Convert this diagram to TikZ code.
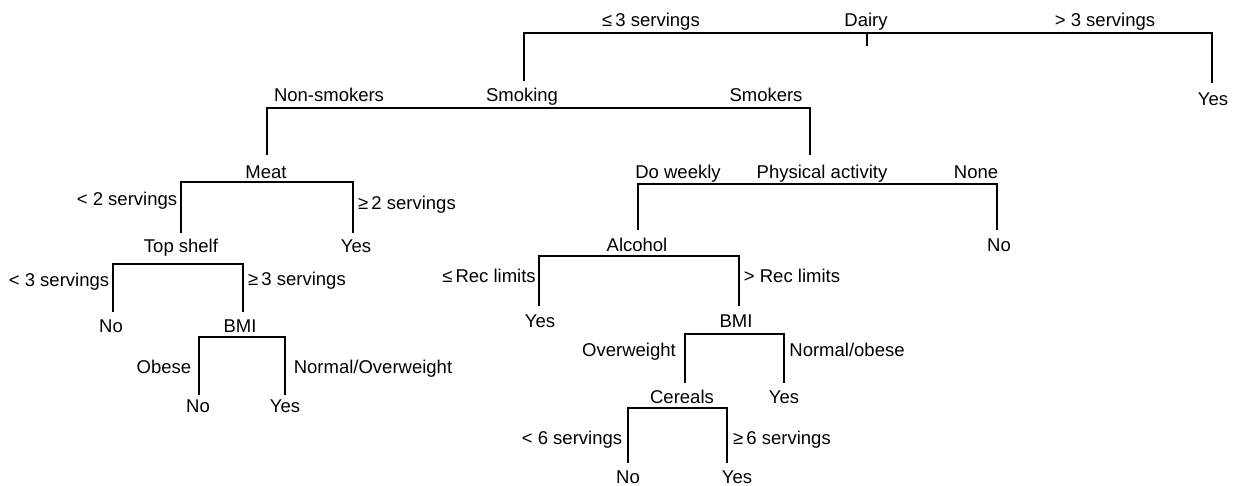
\documentclass[tikz,border=0pt]{standalone}
\usepackage{fontspec}
\setmainfont{Liberation Sans}
\tikzset{
  lbl/.style={anchor=base, inner sep=0pt, font=\fontsize{18.5}{22}\selectfont},
  branch/.style={line width=1.8pt, line join=miter, black}
}
\newcommand\splitbar[6]{%
  \coordinate (#1-a) at (#2,#5);
  \coordinate (#1-b) at (#2,#4);
  \coordinate (#1-c) at (#3,#4);
  \coordinate (#1-d) at (#3,#6);
  \draw[branch] (#1-a) -- (#1-b) -- (#1-c) -- (#1-d);}
\begin{document}
\begin{tikzpicture}[x=1pt,y=-1pt]
\fill[white] (0,0) rectangle (1236,485);
\useasboundingbox (0,0) rectangle (1236,485);
% labels
\node[lbl] (dairy) at (866,26) {Dairy};
\node[lbl] (dl) at (651,26) {≤\,3 servings};
\node[lbl] (dr) at (1105,26) {> 3 servings};
\node[lbl] (yes1) at (1213,105) {Yes};
\node[lbl] (smoking) at (522,101) {Smoking};
\node[lbl] (sl) at (329,101) {Non-smokers};
\node[lbl] (sr) at (766,101) {Smokers};
\node[lbl] (meat) at (266,178) {Meat};
\node[lbl] (ml) at (127,205) {< 2 servings};
\node[lbl] (mr) at (407,209) {≥\,2 servings};
\node[lbl] (topshelf) at (181,252) {Top shelf};
\node[lbl] (yes2) at (356,252) {Yes};
\node[lbl] (tl) at (59,286) {< 3 servings};
\node[lbl] (tr) at (297,285) {≥\,3 servings};
\node[lbl] (no1) at (111,332) {No};
\node[lbl] (bmi1) at (240,332) {BMI};
\node[lbl] (bl) at (164,373) {Obese};
\node[lbl] (br) at (373,373) {Normal/Overweight};
\node[lbl] (no2) at (198,412) {No};
\node[lbl] (yes3) at (285,412) {Yes};
\node[lbl] (pa) at (822,178) {Physical activity};
\node[lbl] (pl) at (678,178) {Do weekly};
\node[lbl] (pr) at (976,178) {None};
\node[lbl] (alcohol) at (637,251) {Alcohol};
\node[lbl] (no3) at (999,251) {No};
\node[lbl] (al) at (489,282) {≤\,Rec limits};
\node[lbl] (ar) at (792,282) {> Rec limits};
\node[lbl] (yes4) at (540,327) {Yes};
\node[lbl] (bmi2) at (736,327) {BMI};
\node[lbl] (bl2) at (629,356) {Overweight};
\node[lbl] (br2) at (847,356) {Normal/obese};
\node[lbl] (cereals) at (682,403) {Cereals};
\node[lbl] (yes5) at (784,403) {Yes};
\node[lbl] (cl) at (572,444) {< 6 servings};
\node[lbl] (cr) at (782,444) {≥\,6 servings};
\node[lbl] (no4) at (628,483) {No};
\node[lbl] (yes6) at (737,483) {Yes};
% branches
\splitbar{dairybar}{524}{1212}{33}{81}{83}
\coordinate (stemtop) at (867,33);
\coordinate (stembot) at (867,46);
\draw[branch] (stemtop) -- (stembot);
\splitbar{smokingbar}{267}{810}{108}{155}{155}
\splitbar{meatbar}{181}{353}{182}{233}{233}
\splitbar{topbar}{113}{243}{264}{312}{312}
\splitbar{bmibarA}{199}{285}{337}{395}{395}
\splitbar{pabar}{638}{997}{184}{230}{230}
\splitbar{alcbar}{539}{739}{256}{306}{306}
\splitbar{bmibarB}{685}{784}{334}{383}{383}
\splitbar{cerbar}{628}{727}{408}{463}{463}
\end{tikzpicture}
\end{document}
